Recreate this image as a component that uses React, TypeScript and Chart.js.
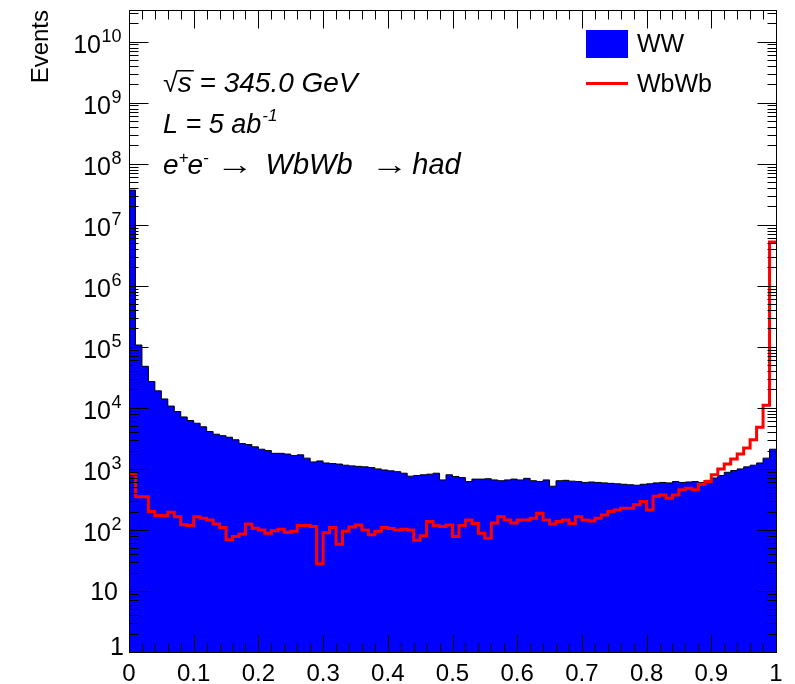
import React, { useEffect, useRef } from 'react';
import { Chart, registerables } from 'chart.js';

Chart.register(...registerables);

const FONT = "'Liberation Sans', Arial, Helvetica, sans-serif";

// Histogram: 100 bins on [0, 1]
const X_MIN = 0;
const X_MAX = 1;
const N_BINS = 100;

const X_TICK_LABELS = ['0', '0.1', '0.2', '0.3', '0.4', '0.5', '0.6', '0.7', '0.8', '0.9', '1'];
const Y_DECADES = [0, 1, 2, 3, 4, 5, 6, 7, 8, 9, 10];
const Y_MIN = 1;
const Y_MAX = 3.3e10;

const SERIES_NAMES = ['WW', 'WbWb'];

const WW_VALUES = [
  3.7e7, 1.07e5, 4.8e4, 2.7e4, 1.9e4, 1.4e4, 1.07e4, 8700, 7100, 6200,
  5600, 4900, 4100, 3700, 3500, 3300, 3000, 2600, 2500, 2300,
  2100, 2000, 1800, 1800, 1750, 1650, 1700, 1500, 1300, 1350,
  1250, 1220, 1200, 1150, 1120, 1100, 1080, 1050, 1000, 960,
  930, 900, 850, 760, 780, 800, 820, 850, 660, 800,
  750, 720, 620, 680, 680, 690, 660, 640, 660, 680,
  660, 700, 640, 620, 660, 520, 640, 650, 630, 620,
  600, 610, 600, 590, 580, 570, 560, 550, 540, 560,
  570, 590, 600, 590, 620, 600, 610, 620, 600, 650,
  710, 780, 880, 940, 1000, 1080, 1150, 1250, 1500, 2100,
];

const WBWB_VALUES = [
  800, 350, 350, 200, 172, 170, 195, 165, 122, 118,
  165, 155, 145, 125, 110, 69, 78, 86, 125, 107,
  100, 88, 97, 103, 92, 95, 118, 118, 114, 28,
  90, 110, 58, 95, 112, 121, 100, 83, 95, 110,
  106, 100, 103, 100, 68, 80, 137, 117, 114, 120,
  78, 118, 145, 128, 88, 73, 130, 165, 145, 130,
  145, 145, 155, 187, 145, 125, 137, 145, 128, 165,
  145, 140, 155, 175, 200, 213, 227, 227, 258, 293,
  213, 355, 375, 330, 375, 455, 480, 455, 560, 620,
  800, 1000, 1200, 1450, 1750, 2200, 3000, 4800, 11000, 5.2e6,
];

const ANNOTATION_LINES = ['s = 345.0 GeV', 'L = 5 ab', 'e e  \u2192 WbWb  \u2192 had'];

// Each value applies from its bin's lower edge; a closing point ends the last bin.
function toSteps(values: number[]) {
  const w = (X_MAX - X_MIN) / N_BINS;
  const pts = values.map((v, k) => ({ x: X_MIN + k * w, y: v }));
  pts.push({ x: X_MAX, y: values[values.length - 1] });
  return pts;
}

function drawArrow(ctx: CanvasRenderingContext2D, x: number, y: number): number {
  ctx.save();
  ctx.font = `28px ${FONT}`;
  const w = ctx.measureText('\u2192').width;
  ctx.translate(x, y);
  ctx.scale(1.35, 1);
  ctx.fillText('\u2192', 0, 0);
  ctx.restore();
  return w * 1.35;
}

const decorPlugin = {
  id: 'rootDecor',
  afterDraw(chart: any) {
    const { ctx, chartArea: a, scales } = chart;
    const xs = scales.x;
    const ys = scales.y;
    ctx.save();
    ctx.strokeStyle = '#000';
    ctx.lineWidth = 1;
    // frame
    const L = Math.round(a.left) + 0.5;
    const R = Math.round(a.right) + 0.5;
    const T = Math.round(a.top) + 0.5;
    const B = Math.round(a.bottom) + 0.5;
    ctx.strokeRect(L, T, R - L, B - T);
    ctx.beginPath();
    // x ticks (bottom & top, inside)
    for (let i = 0; i <= 50; i++) {
      const v = X_MIN + i * 0.02;
      const px = Math.round(xs.getPixelForValue(v)) + 0.5;
      const len = i % 5 === 0 ? 18 : 9;
      ctx.moveTo(px, B);
      ctx.lineTo(px, B - len);
      ctx.moveTo(px, T);
      ctx.lineTo(px, T + len);
    }
    // y ticks (left & right, inside)
    for (const d of Y_DECADES) {
      for (let m = 1; m <= 9; m++) {
        const v = m * Math.pow(10, d);
        if (v > Y_MAX) break;
        const py = Math.round(ys.getPixelForValue(v)) + 0.5;
        const len = m === 1 ? 19 : 9;
        ctx.moveTo(L, py);
        ctx.lineTo(L + len, py);
        ctx.moveTo(R, py);
        ctx.lineTo(R - len, py);
      }
    }
    ctx.stroke();

    // y tick labels with superscript exponents
    ctx.fillStyle = '#000';
    ctx.textAlign = 'left';
    ctx.textBaseline = 'alphabetic';
    const right = 121;
    for (const d of Y_DECADES) {
      const py = ys.getPixelForValue(Math.pow(10, d));
      if (d === 0) {
        ctx.font = `25px ${FONT}`;
        const w = ctx.measureText('1').width;
        ctx.fillText('1', right + 3 - w, py + 3);
      } else if (d === 1) {
        ctx.font = `25px ${FONT}`;
        const w = ctx.measureText('10').width;
        ctx.fillText('10', right - 3 - w, py + 9);
      } else {
        ctx.font = `18px ${FONT}`;
        const sup = String(d);
        const ws = ctx.measureText(sup).width;
        ctx.font = `25px ${FONT}`;
        const wm = ctx.measureText('10').width;
        const x0 = right - ws - wm;
        ctx.fillText('10', x0, py + 11);
        ctx.font = `18px ${FONT}`;
        ctx.fillText(sup, x0 + wm + 0.5, py + 0);
      }
    }

    // annotations
    let x = 163;
    const b1 = 92;
    ctx.font = `27px ${FONT}`;
    ctx.fillText('\u221A', x, b1);
    const rm = ctx.measureText('\u221A');
    const rTop = b1 - (rm.actualBoundingBoxAscent || 21);
    x += rm.width;
    ctx.font = `italic 28px ${FONT}`;
    const sw = ctx.measureText('s').width;
    ctx.fillText(ANNOTATION_LINES[0], x, b1);
    ctx.beginPath();
    ctx.lineWidth = 1.5;
    ctx.moveTo(x - 1, rTop + 0.75);
    ctx.lineTo(x + sw + 2, rTop + 0.75);
    ctx.stroke();

    const b2 = 133;
    x = 163;
    ctx.font = `italic 27px ${FONT}`;
    ctx.fillText(ANNOTATION_LINES[1], x, b2);
    x += ctx.measureText(ANNOTATION_LINES[1]).width + 1;
    ctx.font = `italic 17px ${FONT}`;
    ctx.fillText('-1', x, b2 - 12);

    const b3 = 174;
    x = 163;
    ctx.font = `italic 28px ${FONT}`;
    ctx.fillText('e', x, b3);
    x += ctx.measureText('e').width;
    ctx.font = `italic 17px ${FONT}`;
    ctx.fillText('+', x, b3 - 11);
    x += ctx.measureText('+').width - 1;
    ctx.font = `italic 28px ${FONT}`;
    ctx.fillText('e', x, b3);
    x += ctx.measureText('e').width;
    ctx.font = `italic 17px ${FONT}`;
    ctx.fillText('-', x, b3 - 11);
    x += ctx.measureText('-').width + 7;
    x += drawArrow(ctx, x, b3) + 12;
    ctx.font = `italic 29px ${FONT}`;
    ctx.fillText('WbWb', x, b3);
    x += ctx.measureText('WbWb').width + 18;
    x += drawArrow(ctx, x, b3) + 4;
    ctx.font = `italic 29px ${FONT}`;
    ctx.fillText('had', x, b3);

    // legend
    const ds = chart.data.datasets;
    const ww = ds.find((d: any) => d.label === SERIES_NAMES[0]);
    const wb = ds.find((d: any) => d.label === SERIES_NAMES[1]);
    ctx.fillStyle = ww.backgroundColor;
    ctx.fillRect(586, 30, 42, 28);
    ctx.strokeStyle = wb.borderColor;
    ctx.lineWidth = 3;
    ctx.beginPath();
    ctx.moveTo(586, 83.5);
    ctx.lineTo(628, 83.5);
    ctx.stroke();
    ctx.fillStyle = '#000';
    ctx.font = `25px ${FONT}`;
    ctx.fillText(SERIES_NAMES[0], 637, 52);
    ctx.fillText(SERIES_NAMES[1], 637, 92);
    ctx.restore();
  },
};

export default function App() {
  const ref = useRef<HTMLCanvasElement>(null);
  useEffect(() => {
    if (!ref.current) return;
    const chart = new Chart(ref.current, {
      type: 'line',
      data: {
        datasets: [
          {
            label: SERIES_NAMES[1],
            data: toSteps(WBWB_VALUES),
            stepped: 'before',
            borderColor: '#ff0000',
            borderWidth: 3,
            pointRadius: 0,
            fill: false,
            order: 0,
          },
          {
            label: SERIES_NAMES[0],
            data: toSteps(WW_VALUES),
            stepped: 'before',
            borderColor: '#000000',
            borderWidth: 1,
            backgroundColor: '#0000ff',
            pointRadius: 0,
            fill: 'start',
            order: 1,
          },
        ],
      } as any,
      options: {
        animation: false,
        responsive: true,
        maintainAspectRatio: false,
        layout: { padding: { top: 10, right: 19, left: 0, bottom: 0 } },
        plugins: {
          legend: { display: false },
          tooltip: { enabled: false },
        },
        scales: {
          x: {
            type: 'linear',
            min: X_MIN,
            max: X_MAX,
            grid: { display: false, drawTicks: false },
            border: { display: false },
            ticks: {
              stepSize: 0.1,
              autoSkip: false,
              maxRotation: 0,
              padding: 8,
              color: '#000',
              font: { family: FONT, size: 24 },
              callback: (v: any) => X_TICK_LABELS[Math.round(Number(v) * 10)],
            },
            afterFit: (s: any) => {
              s.height = 32;
            },
          },
          y: {
            type: 'logarithmic',
            min: Y_MIN,
            max: Y_MAX,
            grid: { display: false, drawTicks: false },
            border: { display: false },
            ticks: { display: false },
            title: {
              display: true,
              text: 'Events',
              align: 'end',
              color: '#000',
              font: { family: FONT, size: 24 },
              padding: { top: 27, bottom: 0 },
            },
            afterFit: (s: any) => {
              s.width = 129;
            },
          },
        },
      } as any,
      plugins: [decorPlugin],
    });
    return () => chart.destroy();
  }, []);
  return (
    <div style={{ position: 'fixed', left: 0, top: 0, width: 795, height: 684, background: '#fff' }}>
      <canvas ref={ref} />
    </div>
  );
}
